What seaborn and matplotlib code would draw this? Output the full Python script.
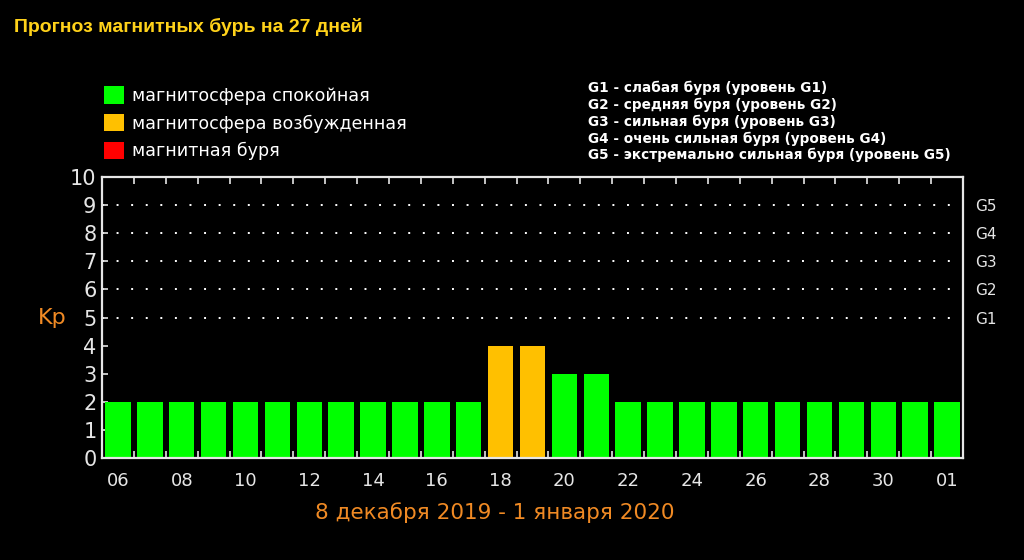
import pandas as pd
import seaborn as sns
import matplotlib.pyplot as plt
from matplotlib.patches import Patch
from matplotlib.ticker import MultipleLocator, FixedLocator

# Данные: прогноз Kp на 27 дней
days = ["06", "07", "08", "09", "10", "11", "12", "13", "14", "15", "16", "17",
        "18", "19", "20", "21", "22", "23", "24", "25", "26", "27", "28", "29",
        "30", "31", "01"]
kp = [2, 2, 2, 2, 2, 2, 2, 2, 2, 2, 2, 2,
      4, 4, 3, 3, 2, 2, 2, 2, 2, 2, 2, 2,
      2, 2, 2]
status = ["спокойная"] * 12 + ["возбужденная"] * 2 + ["спокойная"] * 13

legend_labels = ["магнитосфера спокойная", "магнитосфера возбужденная", "магнитная буря"]
g_levels = ["G1", "G2", "G3", "G4", "G5"]
g_text = ["G1 - слабая буря (уровень G1)",
          "G2 - средняя буря (уровень G2)",
          "G3 - сильная буря (уровень G3)",
          "G4 - очень сильная буря (уровень G4)",
          "G5 - экстремально сильная буря (уровень G5)"]

green, orange, red = "#00ff00", "#ffc000", "#ff0000"
fg = "#e6e6e6"
accent = "#f08a24"

data = pd.DataFrame({"day": days, "kp": kp, "status": status})

sns.set_style("dark")
plt.rcParams["font.family"] = ["DejaVu Sans"]

fig = plt.figure(figsize=(10.24, 5.6), dpi=100, facecolor="black")
ax = fig.add_axes([102 / 1024, 1 - 458 / 560, 861 / 1024, 281 / 560])
ax.set_facecolor("black")

sns.barplot(data=data, x="day", y="kp", hue="status", order=days,
            palette={"спокойная": green, "возбужденная": orange},
            dodge=False, width=0.8, saturation=1, legend=False,
            linewidth=0, edgecolor="none", ax=ax)

ax.set_xlim(-0.5, len(days) - 0.5)
ax.set_ylim(0, 10)
ax.set_xlabel("")
ax.set_ylabel("")

for s in ax.spines.values():
    s.set_color(fg)
    s.set_linewidth(1.6)
    s.set_visible(True)

# пунктир для уровней G1–G5
for lvl in range(5, 10):
    ax.axhline(lvl, color="white", linestyle=(0, (1, 6.5)), linewidth=1.4, zorder=0)

# подписи оси X: каждые два дня
ax.xaxis.set_major_locator(FixedLocator(range(0, len(days), 2)))
ax.set_xticklabels(days[::2])
ax.xaxis.set_minor_locator(FixedLocator([i + 0.5 for i in range(len(days) - 1)]))
ax.tick_params(axis="x", which="major", length=0, colors=fg, labelsize=13, pad=10)
ax.tick_params(axis="x", which="minor", direction="in", length=5, width=1.2,
               color=fg, top=True, bottom=True)

ax.yaxis.set_major_locator(MultipleLocator(1))
ax.tick_params(axis="y", which="major", direction="in", length=4, width=1.2,
               colors=fg, labelsize=15, left=True, right=True, pad=4)
ax.grid(False)

# правая шкала G
ax2 = ax.twinx()
ax2.set_ylim(0, 10)
ax2.set_yticks(range(5, 10))
ax2.set_yticklabels(g_levels)
ax2.tick_params(axis="y", length=0, colors=fg, labelsize=11, pad=9)
for s in ax2.spines.values():
    s.set_visible(False)

fig.text(38 / 1024, 1 - 318 / 560, "Kp", color=accent, fontsize=16, va="center")
fig.text(495 / 1024, 1 - 513 / 560, "8 декабря 2019 - 1 января 2020",
         color=accent, fontsize=15.5, ha="center", va="center")

fig.text(14 / 1024, 1 - 27 / 560, "Прогноз магнитных бурь на 27 дней",
         color="#ffd21a", fontsize=14, fontweight="bold",
         family=["Liberation Sans"], va="center")

handles = [Patch(facecolor=c, edgecolor="none") for c in (green, orange, red)]
fig.legend(handles, legend_labels, loc="upper left",
           bbox_to_anchor=(92 / 1024, 1 - 74 / 560), frameon=False,
           labelcolor="white", fontsize=12.6, handlelength=1.15,
           handleheight=1.15, handletextpad=0.42, labelspacing=0.52,
           borderpad=0.2)

for i, t in enumerate(g_text):
    fig.text(588 / 1024, 1 - (88 + i * 16.8) / 560, t, color="white",
             fontsize=9.8, fontweight="bold", va="center")

fig.savefig("out.png", dpi=100, facecolor="black")
